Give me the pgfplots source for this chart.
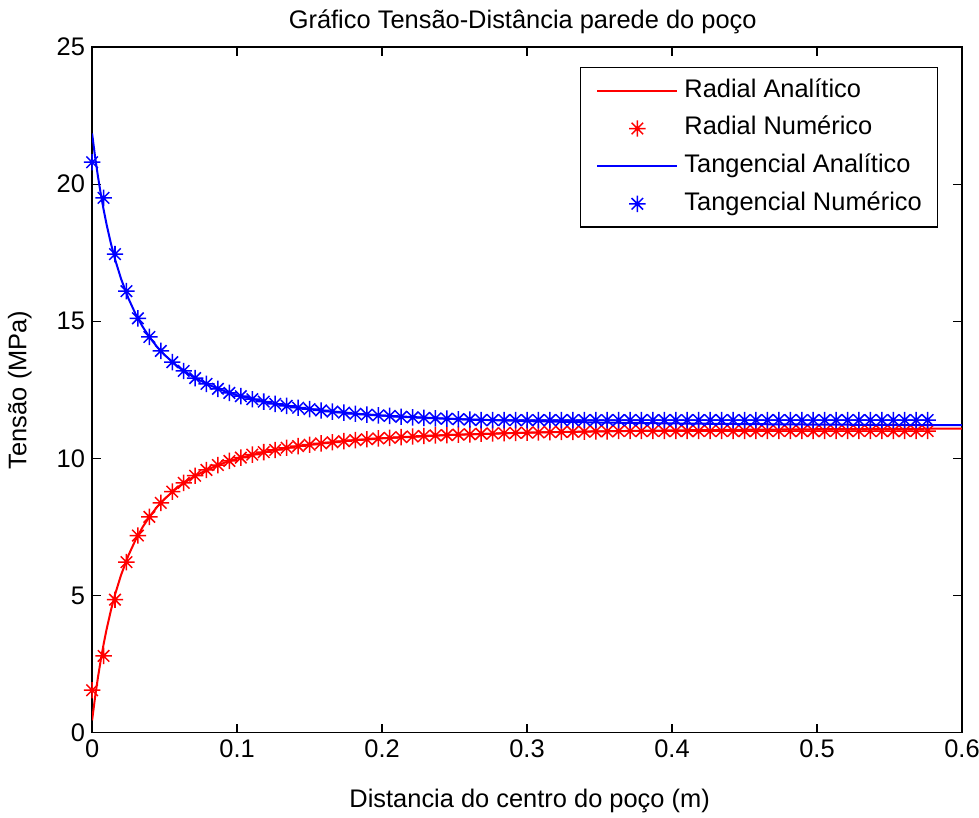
\documentclass[border=0pt]{standalone}
\usepackage{fontspec}
\setmainfont{Liberation Sans}
\usepackage{pgfplots}
\pgfplotsset{compat=1.18}
\usepackage{pgfplotstable}

% matlab style '*' marker: plus and cross together
\pgfdeclareplotmark{mstar}{%
  \pgfpathmoveto{\pgfqpoint{-\pgfplotmarksize}{0pt}}%
  \pgfpathlineto{\pgfqpoint{\pgfplotmarksize}{0pt}}%
  \pgfpathmoveto{\pgfqpoint{0pt}{-\pgfplotmarksize}}%
  \pgfpathlineto{\pgfqpoint{0pt}{\pgfplotmarksize}}%
  \pgfpathmoveto{\pgfqpoint{-0.7\pgfplotmarksize}{-0.7\pgfplotmarksize}}%
  \pgfpathlineto{\pgfqpoint{0.7\pgfplotmarksize}{0.7\pgfplotmarksize}}%
  \pgfpathmoveto{\pgfqpoint{-0.7\pgfplotmarksize}{0.7\pgfplotmarksize}}%
  \pgfpathlineto{\pgfqpoint{0.7\pgfplotmarksize}{-0.7\pgfplotmarksize}}%
  \pgfusepathqstroke}

% analytic curves
\pgfplotstableread{
x      r       t
0      0.450   21.850
0.002  1.273   21.027
0.004  2.004   20.296
0.006  2.657   19.643
0.008  3.243   19.057
0.010  3.770   18.530
0.013  4.467   17.833
0.016  5.069   17.231
0.020  5.754   16.546
0.025  6.458   15.842
0.030  7.034   15.266
0.035  7.509   14.791
0.040  7.907   14.393
0.045  8.242   14.058
0.050  8.529   13.771
0.060  8.988   13.312
0.070  9.336   12.964
0.080  9.606   12.694
0.090  9.820   12.480
0.100  9.993   12.307
0.120  10.250  12.050
0.140  10.431  11.869
0.160  10.562  11.738
0.180  10.660  11.640
0.200  10.736  11.564
0.250  10.863  11.437
0.300  10.939  11.361
0.350  10.989  11.311
0.400  11.023  11.277
0.450  11.047  11.253
0.500  11.065  11.235
0.550  11.078  11.222
0.600  11.089  11.211
}\anatab

% numerical results
\pgfplotstableread{
x       r      t
0       1.55   20.80
0.0079  2.80   19.50
0.0158  4.85   17.45
0.0237  6.22   16.10
0.0316  7.19   15.11
0.0395  7.87   14.43
0.0474  8.38   13.92
0.0553  8.79   13.51
0.0632  9.11   13.19
0.0711  9.37   12.93
0.0789  9.58   12.72
0.0868  9.76   12.54
0.0947  9.91   12.39
0.1026  10.03  12.27
0.1105  10.14  12.16
0.1184  10.23  12.07
0.1263  10.31  11.99
0.1342  10.39  11.92
0.1421  10.45  11.85
0.1500  10.50  11.80
0.1579  10.55  11.75
0.1658  10.59  11.71
0.1737  10.63  11.67
0.1816  10.67  11.63
0.1895  10.70  11.60
0.1974  10.73  11.57
0.2053  10.75  11.55
0.2132  10.78  11.52
0.2211  10.80  11.50
0.2289  10.82  11.48
0.2368  10.84  11.46
0.2447  10.85  11.45
0.2526  10.87  11.43
0.2605  10.88  11.42
0.2684  10.90  11.40
0.2763  10.91  11.40
0.2842  10.92  11.40
0.2921  10.93  11.40
0.3000  10.94  11.40
0.3079  10.95  11.40
0.3158  10.96  11.40
0.3237  10.97  11.40
0.3316  10.97  11.40
0.3395  10.98  11.40
0.3474  10.99  11.40
0.3553  10.99  11.40
0.3632  11.00  11.40
0.3711  11.00  11.40
0.3789  11.00  11.40
0.3868  11.00  11.40
0.3947  11.00  11.40
0.4026  11.00  11.40
0.4105  11.00  11.40
0.4184  11.00  11.40
0.4263  11.00  11.40
0.4342  11.00  11.40
0.4421  11.00  11.40
0.4500  11.00  11.40
0.4579  11.00  11.40
0.4658  11.00  11.40
0.4737  11.00  11.40
0.4816  11.00  11.40
0.4895  11.00  11.40
0.4974  11.00  11.40
0.5053  11.00  11.40
0.5132  11.00  11.40
0.5211  11.00  11.40
0.5289  11.00  11.40
0.5368  11.00  11.40
0.5447  11.00  11.40
0.5526  11.00  11.40
0.5605  11.00  11.40
0.5684  11.00  11.40
0.5763  11.00  11.40
}\numtab

\begin{document}
\begin{tikzpicture}[font=\fontsize{12.7pt}{15pt}\selectfont]
\begin{axis}[
    scale only axis,
    width=434.5pt, height=342.5pt,
    xmin=0, xmax=0.6, ymin=0, ymax=25,
    xtick={0,0.1,0.2,0.3,0.4,0.5,0.6},
    ytick={0,5,10,15,20,25},
    tick align=inside,
    major tick length=4.3pt,
    tick style={black, line width=0.6pt},
    axis line style={line width=0.6pt},
    /pgf/number format/assume math mode=true,
    title={Gráfico Tensão-Distância parede do poço},
    title style={at={(axis description cs:0.495,1.019)}, anchor=center},
    xlabel={Distancia do centro do poço (m)},
    xlabel style={at={(axis description cs:0.503,-0.099)}, anchor=center},
    ylabel={Tensão (MPa)},
    ylabel style={at={(axis description cs:-0.083,0.5)}, anchor=center},
    legend cell align=left,
    legend image code/.code={\draw[mark repeat=2,mark phase=2] plot coordinates {(0pt,0pt) (20pt,0pt) (40pt,0pt)};},
    legend style={at={(axis description cs:1,1)}, anchor=north east,
        xshift=-12pt, yshift=-10pt, draw=black, line width=0.6pt,
        inner xsep=7.75pt, inner ysep=5.5pt, row sep=6.6pt,
        nodes={inner sep=0pt, text height=9.3pt, text depth=2.9pt},
        /tikz/every odd column/.append style={column sep=3pt}},
    mark size=4.1pt,
]
\addplot[red, line width=1pt, no markers] table[x=x, y=r] {\anatab};
\addlegendentry{Radial Analítico}
\addplot[red, only marks, mark=mstar, mark options={line width=0.75pt}] table[x=x, y=r] {\numtab};
\addlegendentry{Radial Numérico}
\addplot[blue, line width=1pt, no markers] table[x=x, y=t] {\anatab};
\addlegendentry{Tangencial Analítico}
\addplot[blue, only marks, mark=mstar, mark options={line width=0.75pt}] table[x=x, y=t] {\numtab};
\addlegendentry{Tangencial Numérico}
\end{axis}
\pgfresetboundingbox
\useasboundingbox (-46pt,-42.5pt) rectangle (443pt,366pt);
\end{tikzpicture}
\end{document}
